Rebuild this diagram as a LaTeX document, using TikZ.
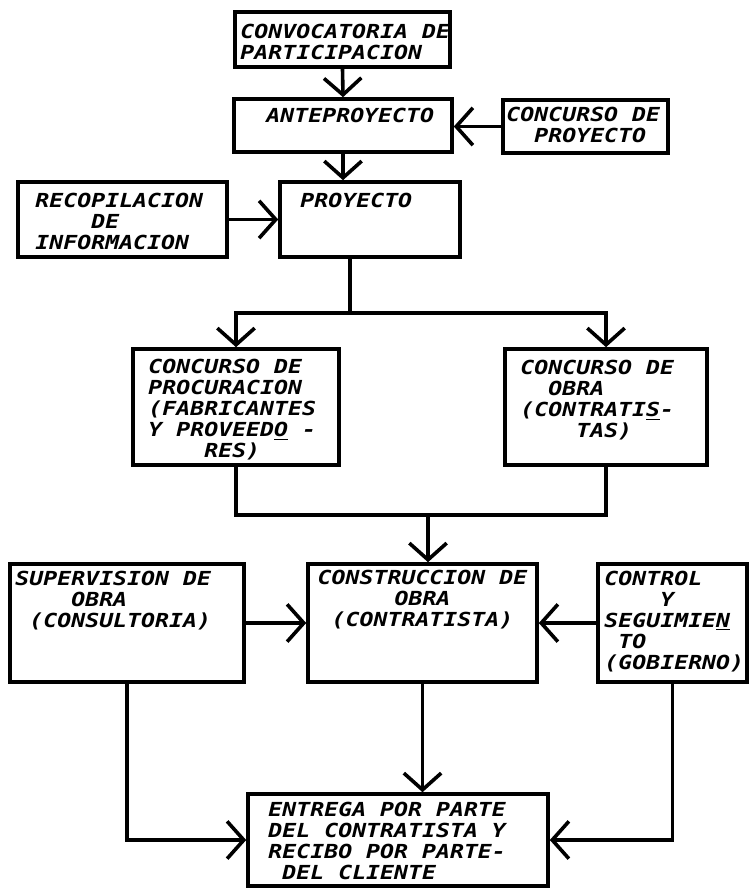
\documentclass[tikz,border=0pt]{standalone}
\usepackage{fontspec}
\newfontfamily\maquina[FakeStretch=1.2]{DejaVu Sans Mono}
\usetikzlibrary{arrows.meta}
\usetikzlibrary{calc}

\begin{document}
\begin{tikzpicture}[x=0.75pt, y=-0.75pt, line cap=round,
		caja/.style={draw, line width=2.7pt, inner sep=0pt},
		texto/.style={anchor=north west, inner sep=0pt, align=left,
			font=\maquina\bfseries\itshape\fontsize{14.5}{15.75}\selectfont},
		textoc/.style={texto, anchor=north, align=center},
		linea/.style={line width=2.7pt},
		flecha/.style={linea, -{Straight Barb[length=12.5pt,width=28pt,line width=2.7pt]}}]
		\path[use as bounding box, fill=white] (0,0) rectangle (749,888);
		% cajas
		\node[caja, minimum width=161.25pt, minimum height=41.25pt] (conv) at (342.5,39.5) {};
		\node[caja, minimum width=163.5pt, minimum height=39.75pt] (ante) at (343,125.5) {};
		\node[caja, minimum width=123.75pt, minimum height=39.75pt] (cproy) at (585.5,126.5) {};
		\node[caja, minimum width=156.75pt, minimum height=56.25pt] (recop) at (122.5,219.5) {};
		\node[caja, minimum width=135pt, minimum height=56.25pt] (proy) at (370,219.5) {};
		\node[caja, minimum width=154.5pt, minimum height=87pt] (proc) at (236,407) {};
		\node[caja, minimum width=151.5pt, minimum height=87pt] (cobra) at (606,407) {};
		\node[caja, minimum width=175.5pt, minimum height=88.5pt] (sup) at (127,623) {};
		\node[caja, minimum width=171.75pt, minimum height=88.5pt] (cons) at (422.5,623) {};
		\node[caja, minimum width=111.75pt, minimum height=88.5pt] (ctrl) at (672.5,623) {};
		\node[caja, minimum width=225pt, minimum height=69pt] (ent) at (398,840) {};
		% textos
		\node[texto] (convT) at ($(conv.north west)+(7,14)$) {CONVOCATORIA DE\\PARTICIPACION};
		\node[texto] (anteT) at ($(ante.north west)+(34,11)$) {ANTEPROYECTO};
		\node[texto] (cproyT) at ($(cproy.north west)+(5,9)$) {CONCURSO DE\\~~PROYECTO};
		\node[texto] (recopT) at ($(recop.north west)+(19,13)$) {RECOPILACION\\~~~~DE\\INFORMACION};
		\node[texto] (proyT) at ($(proy.north west)+(22,13)$) {PROYECTO};
		\node[texto] (procT) at ($(proc.north west)+(17,12)$) {CONCURSO DE\\PROCURACION\\(FABRICANTES\\Y PROVEED\underline{O} -\\~~~~RES)};
		\node[texto] (cobraT) at ($(cobra.north west)+(17,13)$) {CONCURSO DE\\~~OBRA\\(CONTRATI\underline{S}-\\~~~~TAS)};
		\node[texto] (supT) at ($(sup.north west)+(7,9)$) {SUPERVISION DE\\~~~~OBRA\\~(CONSULTORIA)};
		\node[textoc] (consT) at ($(cons.north)+(0,8)$) {CONSTRUCCION DE\\OBRA\\(CONTRATISTA)};
		\node[texto] (ctrlT) at ($(ctrl.north west)+(8,9)$) {CONTROL\\~~~~Y\\SEGUIMIE\underline{N}\\~TO\\(GOBIERNO)};
		\node[texto] (entT) at ($(ent.north west)+(22,10)$) {ENTREGA POR PARTE\\DEL CONTRATISTA Y\\RECIBO POR PARTE-\\~DEL CLIENTE};
		% conectores
		\draw[flecha] (conv.south) -- (ante.north);
		\draw[flecha] (cproy.west) -- (cproy.west -| ante.east);
		\draw[flecha] (ante.south) -- (ante.south |- proy.north);
		\draw[flecha] (recop.east) -- (proy.west);
		\coordinate (rama) at (350,313);
		\draw[linea] (rama |- proy.south) -- (rama);
		\draw[flecha] (rama) -| (proc.north);
		\draw[flecha] (rama) -| (cobra.north);
		\coordinate (union) at (428,515);
		\draw[linea] (proc.south) |- (union);
		\draw[linea] (cobra.south) |- (union);
		\draw[flecha] (union) -- (union |- cons.north);
		\draw[flecha] (sup.east) -- (cons.west);
		\draw[flecha] (ctrl.west) -- (cons.east);
		\draw[flecha] (cons.south) -- (cons.south |- ent.north);
		\draw[flecha] (sup.south) |- (ent.west);
		\draw[flecha] (ctrl.south) |- (ent.east);
	\end{tikzpicture}
\end{document}
